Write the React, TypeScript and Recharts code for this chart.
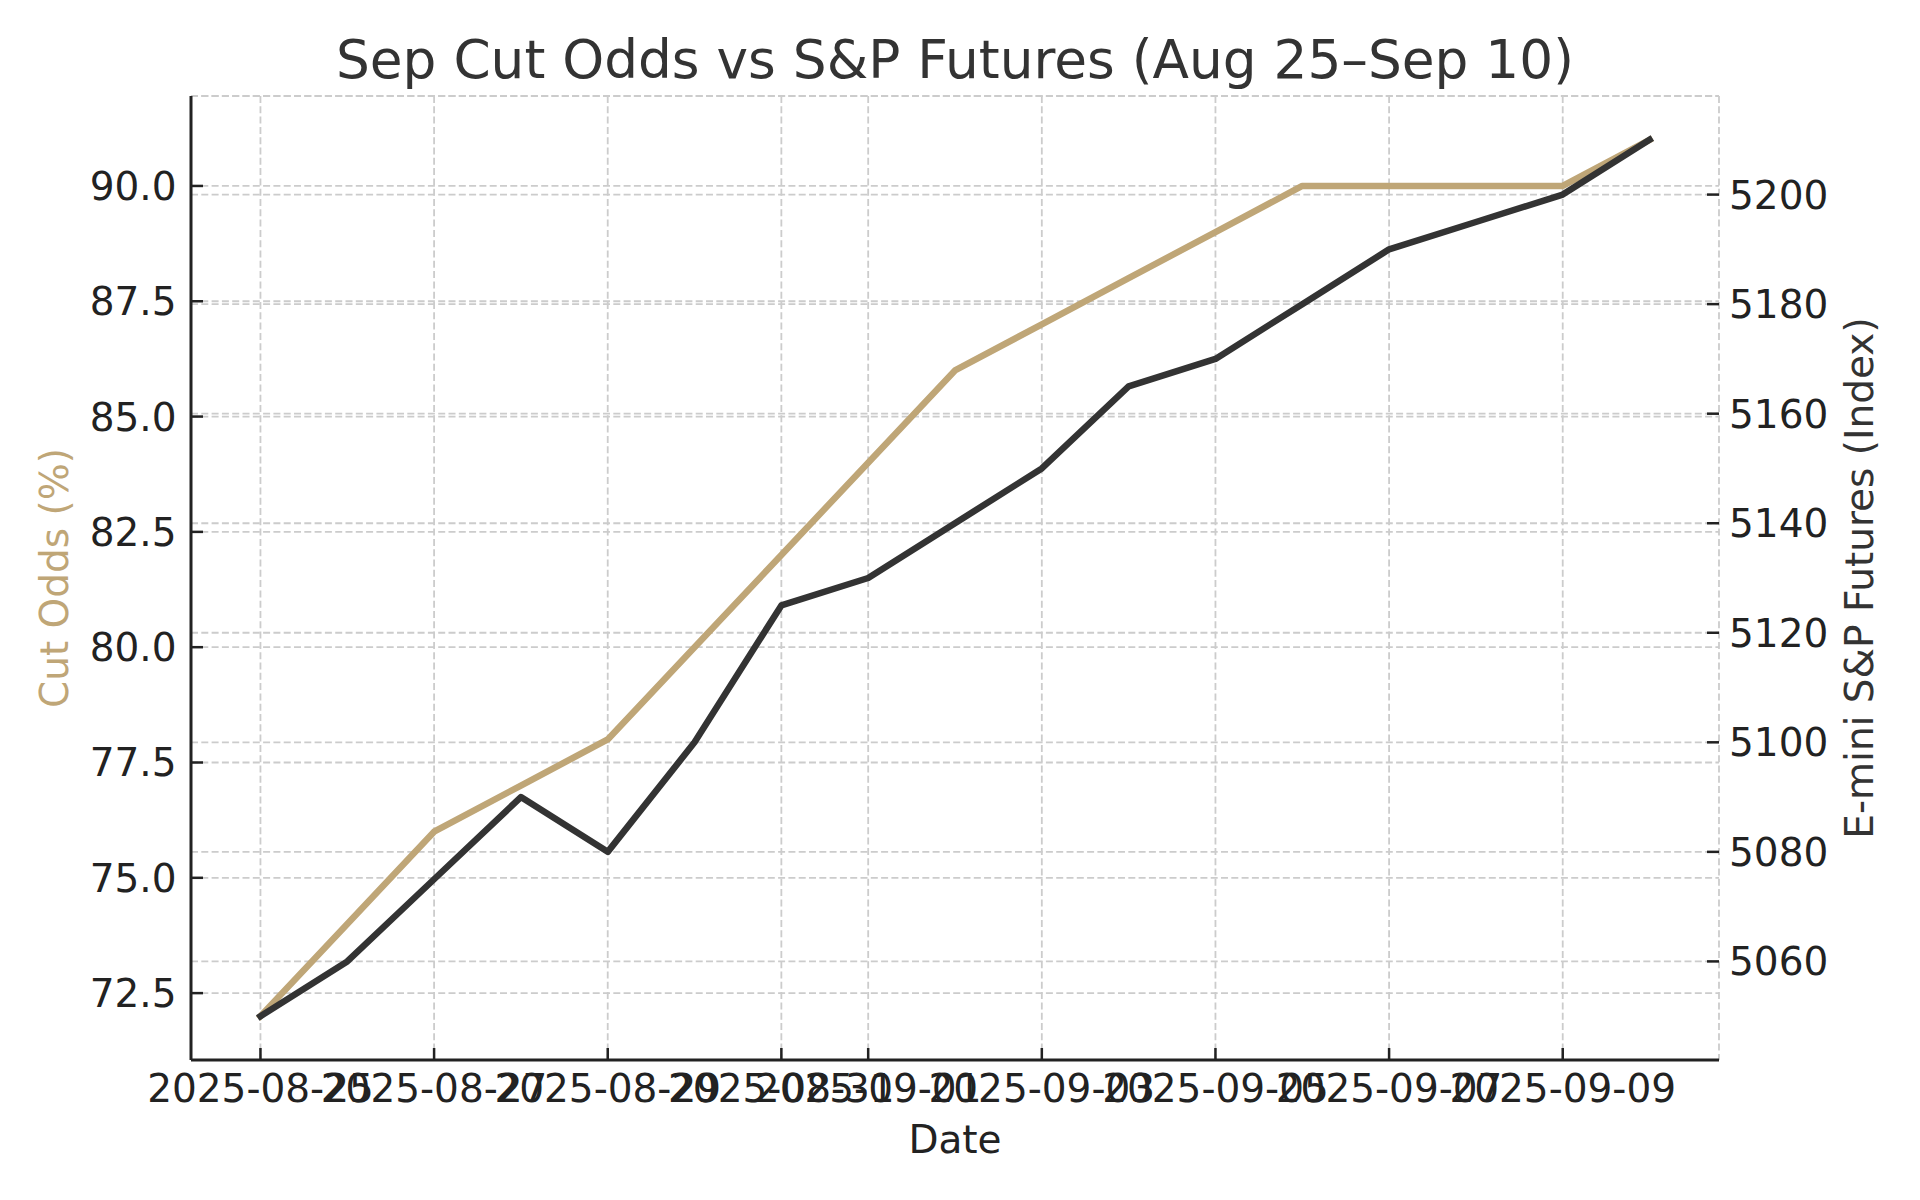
import React from 'react';
import { LineChart, Line, XAxis, YAxis, CartesianGrid } from 'recharts';

// ---- data ----
const dates = [
  '2025-08-25', '2025-08-26', '2025-08-27', '2025-08-28', '2025-08-29',
  '2025-08-30', '2025-08-31', '2025-09-01', '2025-09-02', '2025-09-03',
  '2025-09-04', '2025-09-05', '2025-09-06', '2025-09-07', '2025-09-08',
  '2025-09-09', '2025-09-10',
];
const cutOdds = [72, 74, 76, 77, 78, 80, 82, 84, 86, 87, 88, 89, 90, 90, 90, 90, 91];
const spFutures = [5050, 5060, 5075, 5090, 5080, 5100, 5125, 5130, 5140, 5150, 5165, 5170, 5180, 5190, 5195, 5200, 5210];
const xTickDates = [
  '2025-08-25', '2025-08-27', '2025-08-29', '2025-08-31', '2025-09-01',
  '2025-09-03', '2025-09-05', '2025-09-07', '2025-09-09',
];
const cutTicks = [72.5, 75, 77.5, 80, 82.5, 85, 87.5, 90];
const spTicks = [5060, 5080, 5100, 5120, 5140, 5160, 5180, 5200];

const title = 'Sep Cut Odds vs S&P Futures (Aug 25–Sep 10)';
const xLabel = 'Date';
const leftLabel = 'Cut Odds (%)';
const rightLabel = 'E-mini S&P Futures (Index)';

// ---- style ----
const FONT = '"DejaVu Sans", sans-serif';
const TAN = '#BFA677';
const DARK = '#333333';
const AXIS = '#222222';
const GRID = '#cccccc';

const data = dates.map((d, i) => ({ d: i, cut: cutOdds[i], sp: spFutures[i] }));
const xTicks = xTickDates.map((d) => dates.indexOf(d));

const XTick = (props: any) => {
  const { x, y, payload } = props;
  return (
    <g>
      <line x1={x} y1={y} x2={x} y2={y - 12} stroke={AXIS} strokeWidth={2.5} />
      <text x={x} y={y + 41.7} textAnchor="middle" fontFamily={FONT} fontSize={39} fill={AXIS}>
        {dates[payload.value]}
      </text>
    </g>
  );
};

const LeftTick = (props: any) => {
  const { x, y, payload } = props;
  return (
    <g>
      <line x1={x} y1={y} x2={x + 12} y2={y} stroke={AXIS} strokeWidth={2.5} />
      <text x={x - 14.5} y={y + 14} textAnchor="end" fontFamily={FONT} fontSize={39} fill={AXIS}>
        {Number(payload.value).toFixed(1)}
      </text>
    </g>
  );
};

const RightTick = (props: any) => {
  const { x, y, payload } = props;
  return (
    <g>
      <line x1={x} y1={y} x2={x - 12} y2={y} stroke={AXIS} strokeWidth={2.5} />
      <text x={x + 10} y={y + 14} textAnchor="start" fontFamily={FONT} fontSize={39} fill={AXIS}>
        {String(payload.value)}
      </text>
    </g>
  );
};

export default function App() {
  return (
    <div style={{ position: 'absolute', left: 0, top: 0, width: 1920, height: 1200, background: '#fff' }}>
      <LineChart
        width={1920}
        height={1200}
        data={data}
        margin={{ top: 96, right: 101, bottom: 80, left: 91 }}
      >
        <CartesianGrid yAxisId="left" stroke={GRID} strokeDasharray="7 3.3" strokeWidth={1.8} />
        <CartesianGrid yAxisId="right" vertical={false} stroke={GRID} strokeDasharray="7 3.3" strokeWidth={1.8} />
        <XAxis
          dataKey="d"
          type="number"
          domain={[-0.8, 16.8]}
          allowDataOverflow
          ticks={xTicks}
          interval={0}
          height={60}
          tickSize={0}
          tickMargin={0}
          tick={<XTick />}
          axisLine={{ stroke: AXIS, strokeWidth: 3 }}
          tickLine={false}
        />
        <YAxis
          yAxisId="left"
          orientation="left"
          type="number"
          domain={[71.05, 91.95]}
          allowDataOverflow
          ticks={cutTicks}
          interval={0}
          width={100}
          tickSize={0}
          tickMargin={0}
          tick={<LeftTick />}
          axisLine={{ stroke: AXIS, strokeWidth: 3 }}
          tickLine={false}
        />
        <YAxis
          yAxisId="right"
          orientation="right"
          type="number"
          domain={[5042, 5218]}
          allowDataOverflow
          ticks={spTicks}
          interval={0}
          width={100}
          tickSize={0}
          tickMargin={0}
          tick={<RightTick />}
          axisLine={false}
          tickLine={false}
        />
        <Line
          yAxisId="left"
          dataKey="cut"
          type="linear"
          stroke={TAN}
          strokeWidth={6.5}
          strokeLinejoin="round"
          strokeLinecap="square"
          dot={false}
          activeDot={false}
          isAnimationActive={false}
        />
        <Line
          yAxisId="right"
          dataKey="sp"
          type="linear"
          stroke={DARK}
          strokeWidth={6.5}
          strokeLinejoin="round"
          strokeLinecap="square"
          dot={false}
          activeDot={false}
          isAnimationActive={false}
        />
      </LineChart>
      <svg
        width={1920}
        height={1200}
        style={{ position: 'absolute', left: 0, top: 0, pointerEvents: 'none' }}
      >
        <text x={955} y={77.5} textAnchor="middle" fontFamily={FONT} fontSize={53.3} fill="#333333">
          {title}
        </text>
        <text x={955} y={1152.7} textAnchor="middle" fontFamily={FONT} fontSize={39} fill={AXIS}>
          {xLabel}
        </text>
        <text
          x={68.3}
          y={578}
          transform="rotate(-90 68.3 578)"
          textAnchor="middle"
          fontFamily={FONT}
          fontSize={39}
          fill={TAN}
        >
          {leftLabel}
        </text>
        <text
          x={1872.7}
          y={578}
          transform="rotate(-90 1872.7 578)"
          textAnchor="middle"
          fontFamily={FONT}
          fontSize={39}
          fill="#333333"
        >
          {rightLabel}
        </text>
      </svg>
    </div>
  );
}
